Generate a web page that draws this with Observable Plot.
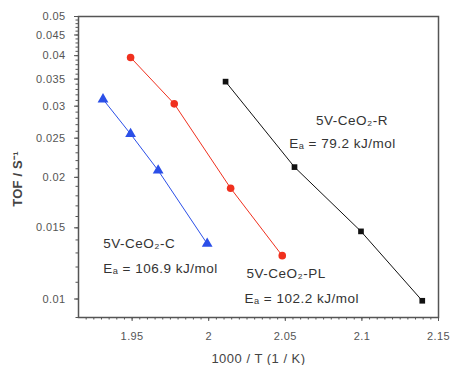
<!DOCTYPE html>
<html>
<head>
<meta charset="utf-8">
<script src="https://cdn.jsdelivr.net/npm/d3@7"></script>
<script src="https://cdn.jsdelivr.net/npm/@observablehq/plot@0.6"></script>
<style>
  body { margin: 0; background: #fff; }
  #chart { width: 450px; height: 365px; }
  svg { font-family: "Liberation Sans", Arial, sans-serif; }
  svg [aria-label="x-axis label"] text, svg [aria-label="y-axis label"] text { font-size: 13px; letter-spacing: 0.5px; fill: #444; }
  svg [aria-label="y-axis label"] text { font-weight: bold; letter-spacing: 0.2px; }
  svg [aria-label="x-axis tick label"] text, svg [aria-label="y-axis tick label"] text { letter-spacing: 0.4px; }
  svg g.ann text { letter-spacing: 0.5px; }
</style>
</head>
<body>
<div id="chart"></div>
<script>
// Series: 5V-CeO2-C (blue triangles)
const cX = [1.931, 1.949, 1.967, 1.999];
const cY = [0.0312, 0.0256, 0.0208, 0.0137];
// Series: 5V-CeO2-PL (red circles)
const plX = [1.949, 1.9775, 2.0143, 2.048];
const plY = [0.0396, 0.0304, 0.0188, 0.0128];
// Series: 5V-CeO2-R (black squares)
const rX = [2.011, 2.056, 2.0994, 2.1394];
const rY = [0.0345, 0.0212, 0.0147, 0.0099];

const xTicks = [1.95, 2.0, 2.05, 2.1, 2.15];
const xTickLabels = ["1.95", "2", "2.05", "2.1", "2.15"];
const yTicks = [0.01, 0.015, 0.02, 0.025, 0.03, 0.035, 0.04, 0.045, 0.05];
const yTickLabels = ["0.01", "0.015", "0.02", "0.025", "0.03", "0.035", "0.04", "0.045", "0.05"];

// Annotations (label text and anchor in data space)
const annText = ["5V-CeO₂-R", "Eₐ = 79.2 kJ/mol", "5V-CeO₂-PL", "Eₐ = 102.2 kJ/mol", "5V-CeO₂-C", "Eₐ = 106.9 kJ/mol"];
const annX = [2.070, 2.0526, 2.0247, 2.0234, 1.9312, 1.9312];
const annY = [0.0276, 0.0242, 0.01153, 0.0100, 0.01369, 0.01187];

const toRows = (xs, ys) => xs.map((x, i) => ({x, y: ys[i]}));
const cRows = toRows(cX, cY), plRows = toRows(plX, plY), rRows = toRows(rX, rY);
const ann = annText.map((t, i) => ({t, x: annX[i], y: annY[i]}));

const xMinor = d3.range(1.92, 2.1501, 0.005).map(v => +v.toFixed(3));
const yMinor = d3.range(0.009, 0.05001, 0.001).map(v => +v.toFixed(3));

const blue = "#2b4fe8", red = "#f0301e", black = "#111";

const chart = Plot.plot({
  width: 450,
  height: 365,
  marginLeft: 78,
  marginRight: 12,
  marginTop: 16,
  marginBottom: 48,
  style: {fontFamily: "Liberation Sans, Arial, sans-serif", fontSize: "11px", color: "#555"},
  x: {domain: [1.915, 2.15]},
  y: {type: "log", domain: [0.009, 0.05]},
  marks: [
    Plot.axisX(xMinor, {tickSize: 2.5, text: null, stroke: "#555", label: null}),
    Plot.axisX(xTicks, {tickSize: 4, tickFormat: (d) => xTickLabels[xTicks.indexOf(d)], fill: "#555", stroke: "#555", fontSize: 11, tickPadding: 11,
      label: "1000 / T (1 / K)", labelAnchor: "center", labelArrow: "none", labelOffset: 45}),
    Plot.axisY(yMinor, {tickSize: 2.5, text: null, stroke: "#555", label: null}),
    Plot.axisY(yTicks, {tickSize: 4, tickFormat: d => yTickLabels[yTicks.indexOf(d)], fill: "#555", stroke: "#555", fontSize: 11, tickPadding: 9,
      label: "TOF / S⁻¹", labelAnchor: "center", labelArrow: "none", labelOffset: 66}),
    Plot.frame({stroke: "#555", strokeWidth: 1.5}),
    Plot.line(cRows, {x: "x", y: "y", stroke: blue, strokeWidth: 1}),
    Plot.line(plRows, {x: "x", y: "y", stroke: red, strokeWidth: 1}),
    Plot.line(rRows, {x: "x", y: "y", stroke: black, strokeWidth: 1}),
    Plot.dot(cRows, {x: "x", y: "y", symbol: "triangle", fill: blue, r: 4}),
    Plot.dot(plRows, {x: "x", y: "y", symbol: "circle", fill: red, r: 3.8}),
    Plot.dot(rRows, {x: "x", y: "y", symbol: "square", fill: black, r: 3.2}),
    Plot.text(ann, {x: "x", y: "y", text: "t", textAnchor: "start", fill: "#333", fontSize: 13.5, className: "ann"})
  ]
});
// shift the rotated y label downward (along its own baseline direction)
d3.select(chart).selectAll('[aria-label="y-axis label"] text').attr("dx", -12);
document.getElementById("chart").append(chart);
</script>
</body>
</html>
